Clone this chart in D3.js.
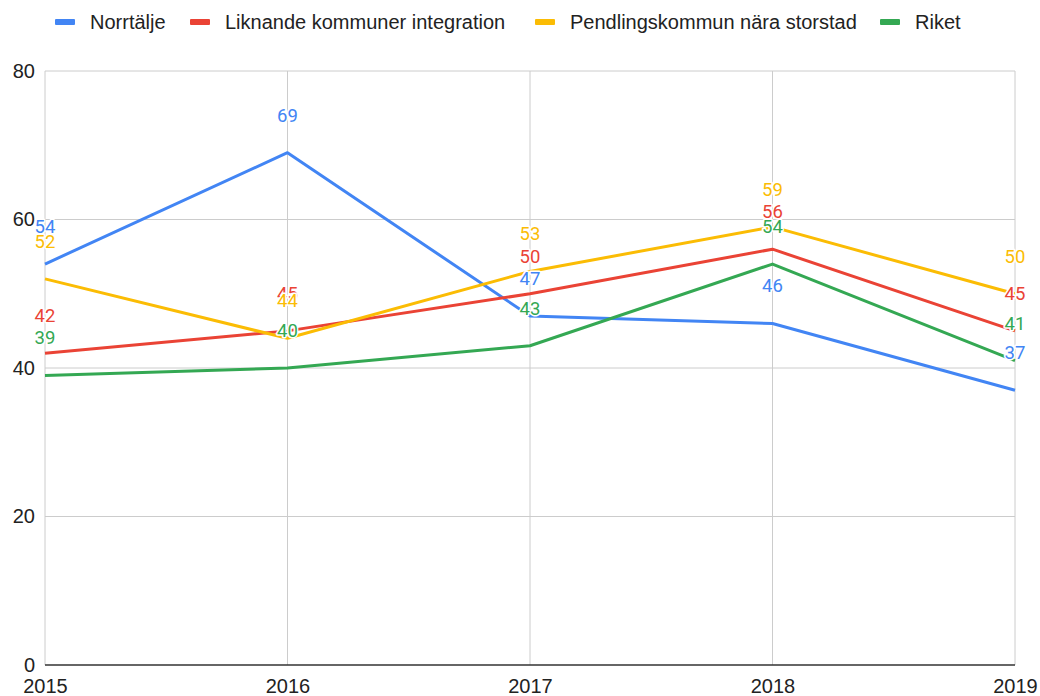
<!DOCTYPE html>
<html><head><meta charset="utf-8">
<script src="https://cdn.jsdelivr.net/npm/d3@7"></script>
<style>body{margin:0;background:#fff}svg{display:block}</style>
</head><body>
<svg id="c" width="1040" height="696"></svg>
<script>
const years = ["2015","2016","2017","2018","2019"];
const seriesNames = ["Norrtälje","Liknande kommuner integration","Pendlingskommun nära storstad","Riket"];
const norrtalje = [54,69,47,46,37];
const liknande = [42,45,50,56,45];
const pendling = [52,44,53,59,50];
const riket = [39,40,43,54,41];
const yTicks = [0,20,40,60,80];
const colors = ["#4285F4","#EA4335","#FBBC04","#34A853"];

const series = [norrtalje, liknande, pendling, riket].map((v,i)=>({name:seriesNames[i], values:v, color:colors[i]}));

const svg = d3.select("#c");
const m = {l:45, r:25, t:71, b:31};
const W = 1040, H = 696;
const x = d3.scalePoint().domain(years).range([m.l, W-m.r]);
const y = d3.scaleLinear().domain([0,80]).range([H-m.b, m.t]);
const axisFont = "Liberation Sans, Arial, sans-serif";

// gridlines
svg.append("g").selectAll("line").data(yTicks.filter(d=>d>0)).join("line")
  .attr("x1",m.l).attr("x2",W-m.r).attr("y1",d=>y(d)).attr("y2",d=>y(d))
  .attr("stroke","#cccccc").attr("stroke-width",1);
svg.append("g").selectAll("line").data(years).join("line")
  .attr("x1",d=>x(d)).attr("x2",d=>x(d)).attr("y1",y(80)).attr("y2",y(0))
  .attr("stroke","#cccccc").attr("stroke-width",1);
svg.append("line").attr("x1",m.l).attr("x2",W-m.r).attr("y1",y(0)).attr("y2",y(0))
  .attr("stroke","#333").attr("stroke-width",1.5);

// y labels
const yAxis = d3.axisLeft(y).tickValues(yTicks).tickSize(0).tickPadding(10);
const gy = svg.append("g").attr("transform",`translate(${m.l},0)`).call(yAxis);
gy.select(".domain").remove();
gy.selectAll("text").attr("font-family",axisFont).attr("font-size",20).attr("fill","#222");

// x labels
const xAxis = d3.axisBottom(x).tickSize(0).tickPadding(14);
const gx = svg.append("g").attr("transform",`translate(0,${y(0)})`).call(xAxis);
gx.select(".domain").remove();
gx.selectAll("text").attr("font-family",axisFont).attr("font-size",20).attr("fill","#222");

// lines
const line = d3.line().x((d,i)=>x(years[i])).y(d=>y(d));
svg.append("g").selectAll("path").data(series).join("path")
  .attr("d",d=>line(d.values)).attr("fill","none")
  .attr("stroke",d=>d.color).attr("stroke-width",3).attr("stroke-linejoin","round");

// data labels
series.forEach(s=>{
  svg.append("g").selectAll("text").data(s.values).join("text")
    .attr("x",(d,i)=>x(years[i])).attr("y",d=>y(d)-31)
    .attr("text-anchor","middle")
    .attr("font-family","Roboto, sans-serif").attr("font-size",18.5)
    .attr("fill",s.color).attr("stroke","#fff").attr("stroke-width",3)
    .attr("paint-order","stroke").attr("stroke-linejoin","round")
    .text(d=>d);
});

// legend
const legX = [55,190,535,880];
const lg = svg.append("g").selectAll("g").data(series).join("g")
  .attr("transform",(d,i)=>`translate(${legX[i]},22)`);
lg.append("rect").attr("x",0).attr("y",-3).attr("width",20).attr("height",6).attr("rx",1).attr("fill",d=>d.color);
lg.append("text").attr("x",35).attr("y",7).attr("font-family",axisFont)
  .attr("font-size",20).attr("fill","#222").text(d=>d.name);
</script>
</body></html>
